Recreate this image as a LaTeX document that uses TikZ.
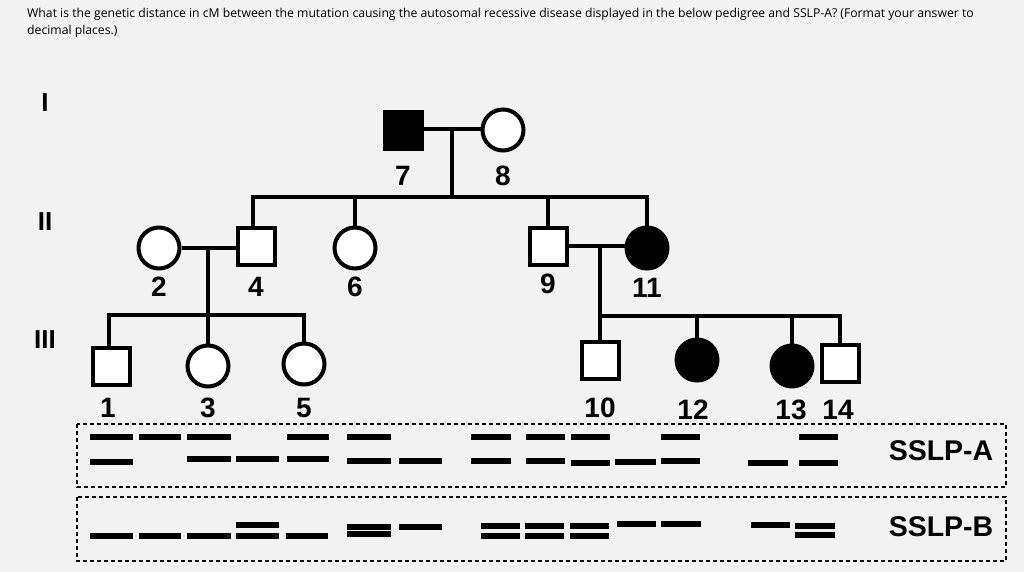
\documentclass[tikz,border=0pt]{standalone}
\usepackage{fontspec}
\setmainfont{Liberation Sans}
\newfontfamily\qfont{Open Sans}
\begin{document}
\begin{tikzpicture}[x=1pt,y=-1pt,
  ln/.style={line width=4pt},
  male/.style={draw,line width=4pt,minimum size=37pt,inner sep=0pt,fill=white},
  fem/.style={draw,circle,line width=4pt,minimum size=41pt,inner sep=0pt,fill=white},
  aff/.style={fill=black},
  lab/.style={font=\bfseries\fontsize{28}{28}\selectfont,inner sep=0pt},
  gen/.style={font=\bfseries\fontsize{26}{26}\selectfont,inner sep=0pt},
  band/.style={line width=6.5pt},
  box/.style={draw,line width=1.6pt,dash pattern=on 4pt off 3pt}]
\fill[black!5] (0,0) rectangle (1024,572);
\useasboundingbox (0,0) rectangle (1024,572);
\node[anchor=north west,align=left,inner sep=0pt,font=\qfont\fontsize{12.2}{17}\selectfont] (q) at (27,8)
 {What is the genetic distance in cM between the mutation causing the autosomal recessive disease displayed in the below pedigree and SSLP-A? (Format your answer to\\decimal places.)};
\node[gen] (g1) at (45,103) {I};
\node[gen] (g2) at (45,222) {II};
\node[gen] (g3) at (45,340) {III};
% generation I
\node[male,aff] (p7) at (403,131) {};
\node[fem] (p8) at (503,130) {};
% generation II
\node[fem] (p2) at (159,248) {};
\node[male] (p4) at (256,246) {};
\node[fem] (p6) at (355,248) {};
\node[male] (p9) at (548,246) {};
\node[fem,aff] (p11) at (647,248) {};
% generation III
\node[male] (p1) at (111,366) {};
\node[fem] (p3) at (208,366) {};
\node[fem] (p5) at (304,364) {};
\node[male] (p10) at (600,360) {};
\node[fem,aff] (p12) at (697,360) {};
\node[fem,aff] (p13) at (792,366) {};
\node[male] (p14) at (840,363) {};
% couple and sibship lines
\coordinate (m1) at (452,129);
\coordinate (s1) at (452,197);
\draw[ln] (p7.east|-m1) -- (p8.west|-m1);
\draw[ln] (m1) -- (s1);
\draw[ln] (p4.north-|253,0) |- (s1) -| (p11.north);
\draw[ln] (p6.north) -- (p6.north|-s1);
\draw[ln] (p9.north) -- (p9.north|-s1);
\coordinate (m2) at (208,246);
\coordinate (s2) at (208,315);
\draw[ln] (p2.east) -- (p4.west|-p2.east);
\draw[ln] (m2) -- (s2);
\draw[ln] (p1.north-|109,0) |- (s2) -| (p5.north);
\draw[ln] (p3.north) -- (p3.north|-s2);
\coordinate (m3) at (600,246);
\coordinate (s3) at (600,316);
\draw[ln] (p9.east) -- (p11.west|-p9.east);
\draw[ln] (m3) -- (s3);
\draw[ln] (p10.north) |- (s3) -| (p14.north);
\draw[ln] (p12.north) -- (p12.north|-s3);
\draw[ln] (p13.north) -- (p13.north|-s3);
% labels
\foreach \n/\x/\y in {7/403/176,8/503/176,2/159/287,4/256/287,6/355/287,9/548/284,11/647/288,
  1/108/408,3/208/408,5/304/408,10/600/408,12/693/410,13/791/410,14/838/410}
  \node[lab] (l\n) at (\x,\y) {\n};
% gel boxes
\draw[box] (77,424) rectangle (1006,487);
\draw[box] (77,497) rectangle (1006,561);
\node[font=\bfseries\fontsize{28.5}{28}\selectfont,inner sep=0pt] (sa) at (941,451) {SSLP-A};
\node[font=\bfseries\fontsize{28.5}{28}\selectfont,inner sep=0pt] (sb) at (941,527) {SSLP-B};
% SSLP-A bands: x-left, x-right, y
\foreach \a/\b/\y in {90/133/437, 90/133/462, 139/181/437, 187/231/437, 187/231/459,
  236/279/459, 287/329/437, 287/329/459, 347/391/437, 347/391/461, 399/442/461,
  471/511/437, 471/511/461, 526/565/437, 526/565/461, 571/610/437, 571/610/463,
  615/656/462, 661/700/437, 661/700/461, 748/788/463, 799/838/437, 799/838/463}
  \draw[band] (\a,\y) -- (\b,\y);
% SSLP-B bands
\foreach \a/\b/\y in {90/133/536, 139/181/536, 187/231/536, 236/279/525, 236/279/536,
  286/328/536, 347/391/527, 347/391/534, 399/442/527,
  481/520/526, 481/520/536, 525/564/526, 525/564/536, 570/609/526, 570/609/536,
  617/656/524, 661/701/524, 751/790/525, 795/835/526, 795/835/535}
  \draw[band,line width=6pt] (\a,\y) -- (\b,\y);
\end{tikzpicture}
\end{document}
